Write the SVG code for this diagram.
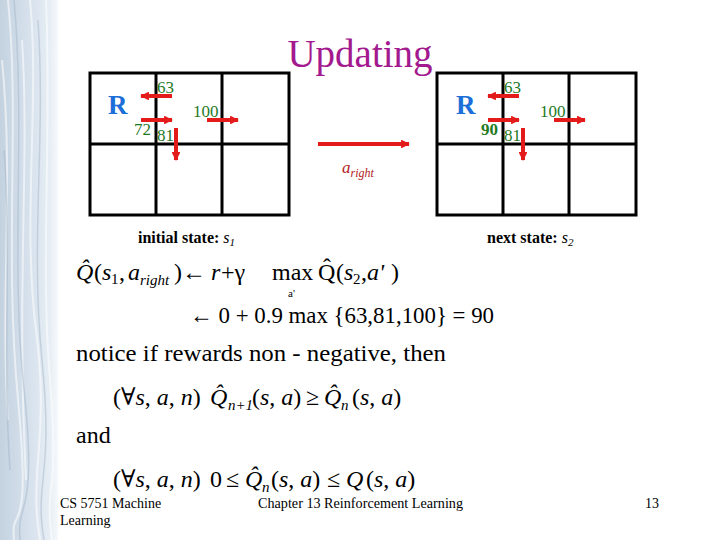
<svg xmlns="http://www.w3.org/2000/svg" width="720" height="540" viewBox="0 0 720 540">
<defs>
<linearGradient id="strip" x1="0" y1="0" x2="1" y2="0">
<stop offset="0" stop-color="#c4d2e0"/>
<stop offset="0.5" stop-color="#d6e1ec"/>
<stop offset="0.85" stop-color="#e6edf4"/>
<stop offset="1" stop-color="#f6f9fc"/>
</linearGradient>
<marker id="ah" viewBox="0 0 10 10" refX="9" refY="5" markerWidth="2.2" markerHeight="2.2" orient="auto" markerUnits="strokeWidth">
<path d="M0,0 L10,5 L0,10 z" fill="#e31b1b"/>
</marker>
<style>
.grid{fill:none;stroke:#000;stroke-width:3}
.arr{stroke:#e31b1b;stroke-width:4;fill:none;marker-end:url(#ah)}
.R{font-family:"Liberation Serif",serif;font-weight:bold;font-size:27px;fill:#1c6ed8}
.v{font-family:"Liberation Serif",serif;font-size:17px;fill:#1f7a1f}
.vb{font-family:"Liberation Serif",serif;font-size:17px;font-weight:bold;fill:#1f7a1f}
.m{font-family:"Liberation Serif","DejaVu Serif",serif;font-size:24px;fill:#000}
.i{font-style:italic}
.sub{font-size:15px}
.tiny{font-size:11px}
.lab{font-family:"Liberation Serif",serif;font-size:16px;font-weight:bold;fill:#000}
.foot{font-family:"Liberation Serif",serif;font-size:14px;fill:#000}
</style>
</defs>
<rect width="720" height="540" fill="#fff"/>
<g id="strip">
<rect x="0" y="0" width="58" height="540" fill="url(#strip)"/>
<g stroke="#fff" stroke-opacity="0.55" fill="none" stroke-width="2">
<path d="M8,0 C20,120 4,250 18,400 S10,500 14,540"/>
<path d="M30,0 C40,100 22,220 36,330 S28,470 40,540"/>
<path d="M46,0 C52,140 40,260 50,380 S44,480 52,540"/>
<path d="M2,60 C14,180 0,300 8,420"/>
<path d="M22,40 C30,160 16,280 26,480"/>
</g>
<g stroke="#9fb2c6" stroke-opacity="0.45" fill="none" stroke-width="1.5">
<path d="M14,0 C26,130 10,260 24,390 S16,500 20,540"/>
<path d="M38,20 C46,140 30,240 42,360 S34,480 44,540"/>
<path d="M4,150 C12,250 2,350 10,470"/>
</g>
</g>
<text id="title" x="360" y="67" text-anchor="middle" font-family="Liberation Serif, serif" font-size="39" fill="#a3198e">Updating</text>
<g id="grid1">
<rect class="grid" x="90" y="73" width="199" height="142"/>
<line class="grid" x1="156" y1="73" x2="156" y2="215"/>
<line class="grid" x1="222" y1="73" x2="222" y2="215"/>
<line class="grid" x1="90" y1="144" x2="289" y2="144"/>
<text class="R" x="108" y="114">R</text>
<text class="v" x="157" y="93">63</text>
<text class="v" x="134" y="135">72</text>
<text class="v" x="157" y="141">81</text>
<text class="v" x="193" y="117">100</text>
</g>
<g id="grid2">
<rect class="grid" x="437" y="73" width="199" height="142"/>
<line class="grid" x1="503" y1="73" x2="503" y2="215"/>
<line class="grid" x1="569" y1="73" x2="569" y2="215"/>
<line class="grid" x1="437" y1="144" x2="636" y2="144"/>
<text class="R" x="456" y="114">R</text>
<text class="v" x="504" y="93">63</text>
<text class="vb" x="481" y="135">90</text>
<text class="v" x="504" y="141">81</text>
<text class="v" x="540" y="117">100</text>
</g>
<g id="connectors">
<line class="arr" x1="172" y1="96" x2="141" y2="96"/>
<line class="arr" x1="141" y1="120" x2="172" y2="120"/>
<line class="arr" x1="176" y1="128" x2="176" y2="160"/>
<line class="arr" x1="207" y1="120" x2="238" y2="120"/>
<line class="arr" x1="519" y1="96" x2="488" y2="96"/>
<line class="arr" x1="488" y1="120" x2="519" y2="120"/>
<line class="arr" x1="523" y1="128" x2="523" y2="160"/>
<line class="arr" x1="554" y1="120" x2="585" y2="120"/>
<line class="arr" x1="318" y1="144" x2="409" y2="144"/>
</g>
<text id="aright" x="342" y="173" font-family="Liberation Serif, serif" font-style="italic" font-size="17" fill="#b22222">a<tspan font-size="12" dy="4">right</tspan></text>
<text class="lab" x="138" y="243">initial state: <tspan font-weight="normal" font-style="italic">s</tspan><tspan font-weight="normal" font-style="italic" font-size="11" dy="3">1</tspan></text>
<text class="lab" x="487" y="243">next state: <tspan font-weight="normal" font-style="italic">s</tspan><tspan font-weight="normal" font-style="italic" font-size="11" dy="3">2</tspan></text>
<g id="eq1">
<text class="m i" x="76" y="280">Q&#x302;</text>
<text class="m" x="94" y="280">(</text>
<text class="m i" x="102" y="280">s</text>
<text class="m sub" x="111" y="284">1</text>
<text class="m" x="119" y="280">,</text>
<text class="m i" x="128" y="280">a</text>
<text class="m i sub" x="140" y="285">right</text>
<text class="m" x="174" y="280">)</text>
<text class="m" x="182" y="280">←</text>
<text class="m i" x="211" y="280">r</text>
<text class="m" x="221" y="280">+γ</text>
<text class="m" x="272" y="280">max</text>
<text class="m tiny" x="288" y="297">a'</text>
<text class="m" x="318" y="280">Q&#x302;</text>
<text class="m" x="336" y="280">(</text>
<text class="m i" x="344" y="280">s</text>
<text class="m sub" x="353" y="284">2</text>
<text class="m" x="361" y="280">,</text>
<text class="m i" x="367" y="280">a'</text>
<text class="m" x="391" y="280">)</text>
</g>
<text class="m" x="190" y="323" textLength="304" lengthAdjust="spacingAndGlyphs">← 0 + 0.9 max {63,81,100} = 90</text>
<text class="m" x="76" y="361" textLength="370" lengthAdjust="spacingAndGlyphs">notice if rewards non - negative, then</text>
<g id="eq3">
<text class="m" x="113" y="405">(∀<tspan class="i">s</tspan>, <tspan class="i">a</tspan>, <tspan class="i">n</tspan>)</text>
<text class="m i" x="210" y="405">Q&#x302;</text>
<text class="m i sub" x="228" y="410">n+1</text>
<text class="m" x="252" y="405">(<tspan class="i">s</tspan>, <tspan class="i">a</tspan>)</text>
<text class="m" x="306" y="405">≥</text>
<text class="m i" x="324" y="405">Q&#x302;</text>
<text class="m i sub" x="341" y="410">n</text>
<text class="m" x="352" y="405">(<tspan class="i">s</tspan>, <tspan class="i">a</tspan>)</text>
</g>
<text class="m" x="76" y="443">and</text>
<g id="eq4">
<text class="m" x="113" y="487">(∀<tspan class="i">s</tspan>, <tspan class="i">a</tspan>, <tspan class="i">n</tspan>)</text>
<text class="m" x="210" y="487">0</text>
<text class="m" x="226" y="487">≤</text>
<text class="m i" x="245" y="487">Q&#x302;</text>
<text class="m i sub" x="262" y="492">n</text>
<text class="m" x="271" y="487">(<tspan class="i">s</tspan>, <tspan class="i">a</tspan>)</text>
<text class="m" x="327" y="487">≤</text>
<text class="m i" x="346" y="487">Q</text>
<text class="m" x="366" y="487">(<tspan class="i">s</tspan>, <tspan class="i">a</tspan>)</text>
</g>
<text class="foot" x="60" y="508">CS 5751 Machine</text>
<text class="foot" x="60" y="525">Learning</text>
<text class="foot" x="258" y="508" textLength="205" lengthAdjust="spacingAndGlyphs">Chapter 13  Reinforcement Learning</text>
<text class="foot" x="645" y="508">13</text>
</svg>
